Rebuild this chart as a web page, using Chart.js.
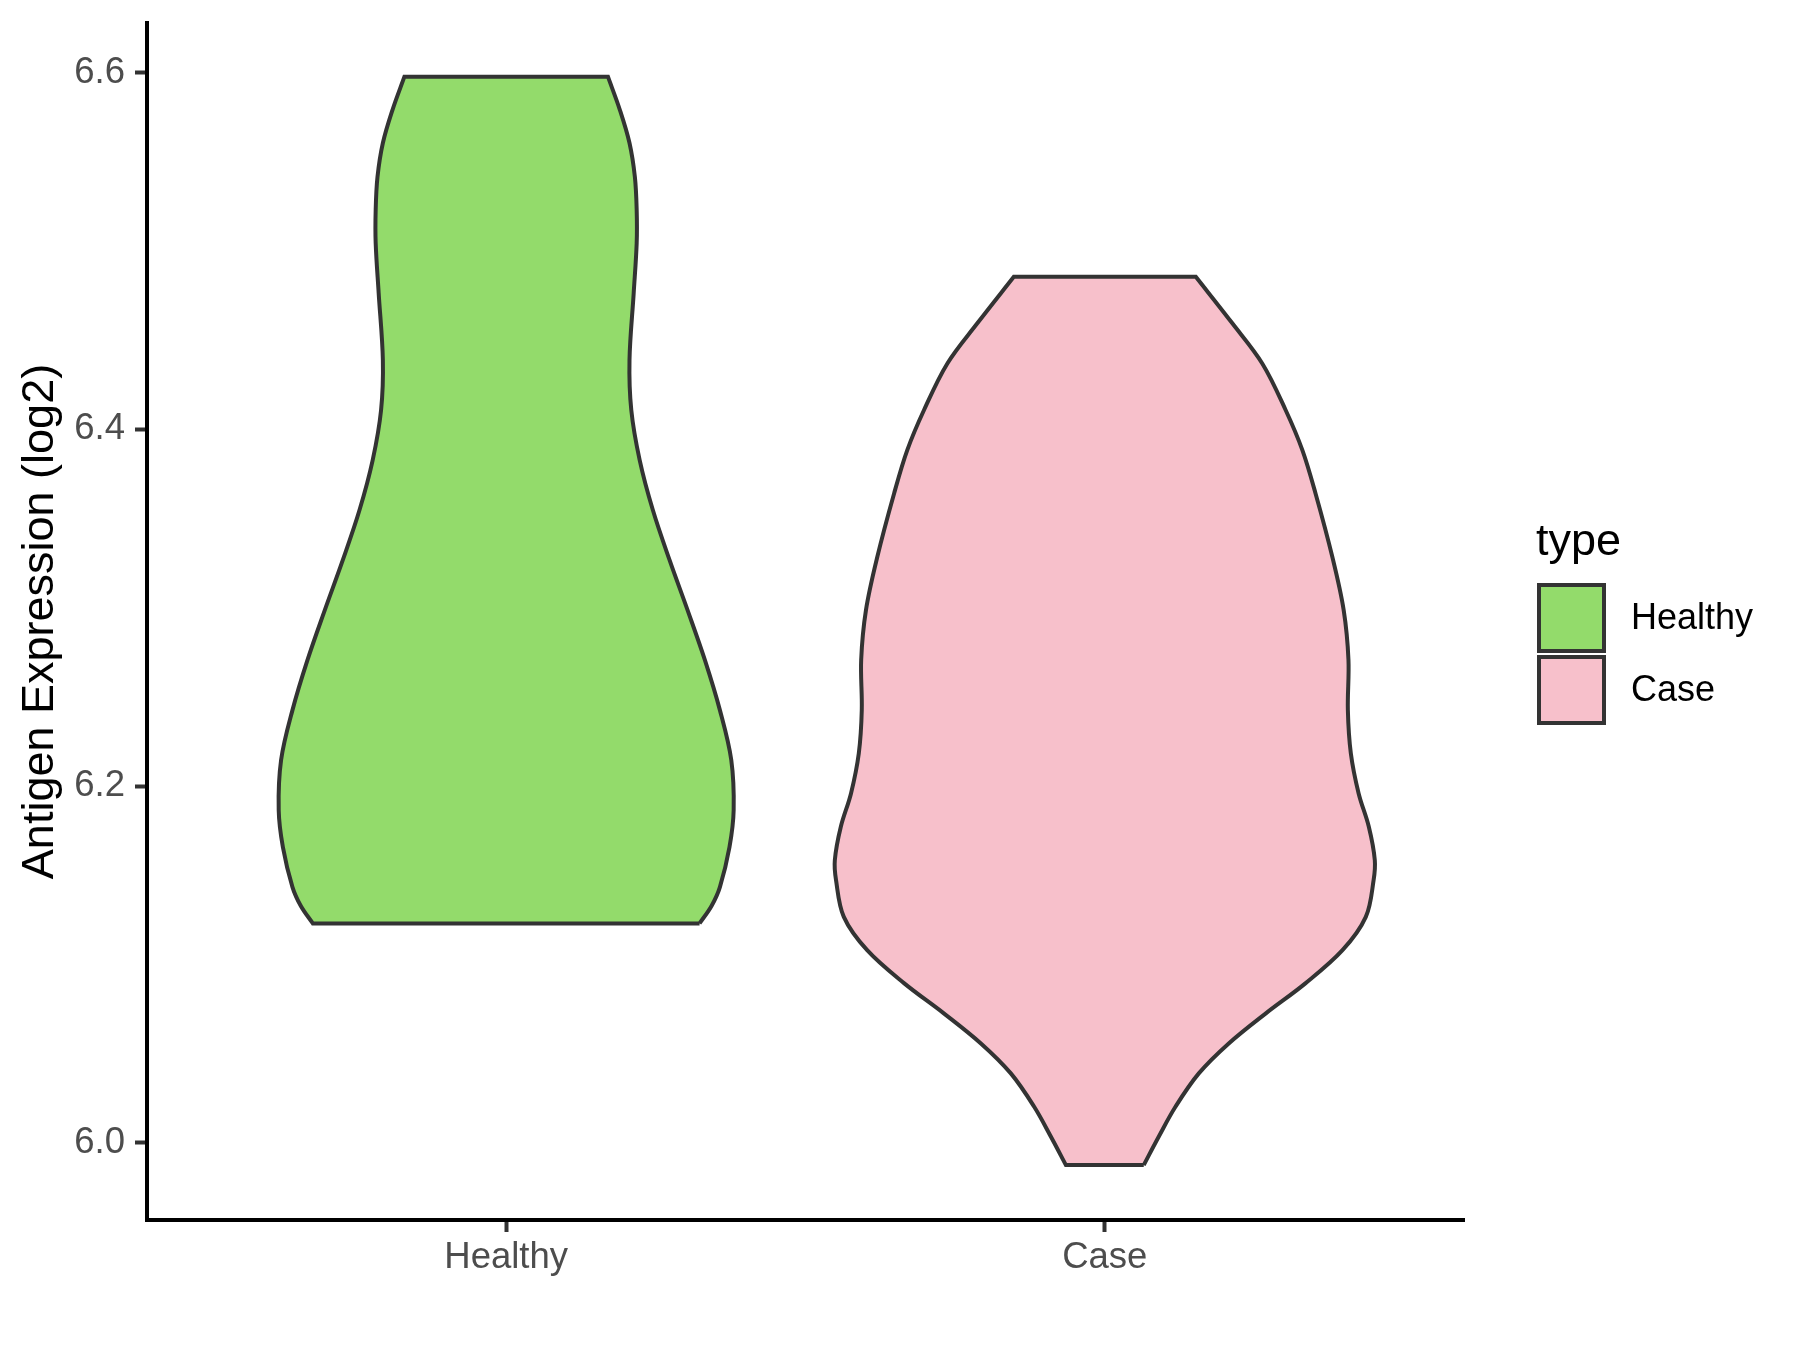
<!DOCTYPE html>
<html>
<head>
<meta charset="utf-8">
<title>Antigen Expression (log2) by type</title>
<script src="https://cdn.jsdelivr.net/npm/chart.js@4.4.1/dist/chart.umd.min.js"></script>
<style>
  html, body { margin: 0; padding: 0; background: #ffffff; }
  #wrap { width: 1800px; height: 1350px; }
</style>
</head>
<body>
<div id="wrap"><canvas id="violinChart" width="1800" height="1350"></canvas></div>
<script>
// Categories and colours
const categories = ['Healthy', 'Case'];
const fillColors = ['#93DB6B', '#F7C0CB'];
const outlineColor = '#333333';
const fontFamily = "'Liberation Sans', Arial, sans-serif";

// Axis ticks and limits
const yTicks = [6.0, 6.2, 6.4, 6.6];
const yLimits = [5.9567, 6.6279];
const xLimits = [0.4, 2.6];

// Violin outlines: expression level (bottom -> top) and half-width in category units
const healthyLevels = [6.1230, 6.1328, 6.1434, 6.1658, 6.1866, 6.2146, 6.2426, 6.2706, 6.2987, 6.3267, 6.3548,
                       6.3828, 6.4108, 6.4389, 6.4765, 6.5045, 6.5230, 6.5415, 6.5606, 6.5791, 6.5978];
const healthyHalfWidth = [0.323, 0.343, 0.357, 0.373, 0.380, 0.376, 0.357, 0.332, 0.303, 0.273, 0.245,
                          0.223, 0.209, 0.206, 0.213, 0.218, 0.218, 0.215, 0.206, 0.190, 0.170];
const caseLevels = [5.9875, 6.0034, 6.0202, 6.0389, 6.0557, 6.0726, 6.0894, 6.1080, 6.1267, 6.1473,
                    6.1585, 6.1772, 6.1959, 6.2183, 6.2427, 6.2707, 6.2987, 6.3286, 6.3641, 6.3884,
                    6.4109, 6.4370, 6.4595, 6.4856];
const caseHalfWidth = [0.065, 0.090, 0.118, 0.157, 0.207, 0.269, 0.335, 0.397, 0.436, 0.449,
                       0.451, 0.441, 0.424, 0.411, 0.406, 0.407, 0.399, 0.380, 0.352, 0.330,
                       0.302, 0.263, 0.213, 0.152];

// Build a closed outline: up the right side, down the left side.
// Corner points are repeated so the smoothed sides meet the flat ends sharply.
function violinOutline(center, levels, halfWidth) {
    const right = levels.map((y, i) => ({ x: center + halfWidth[i], y: y }));
    const left = levels.map((y, i) => ({ x: center - halfWidth[i], y: y })).reverse();
    const topRight = right[right.length - 1];
    const bottomLeft = left[left.length - 1];
    return [...right, { ...topRight }, { ...left[0] }, ...left, { ...bottomLeft }, { ...right[0] }];
}

const violins = [
    violinOutline(1, healthyLevels, healthyHalfWidth),
    violinOutline(2, caseLevels, caseHalfWidth)
];

const datasets = categories.map((name, i) => ({
    label: name,
    data: violins[i],
    showLine: true,
    fill: 'shape',
    backgroundColor: fillColors[i],
    borderColor: outlineColor,
    borderWidth: 4,
    tension: 0.35,
    pointRadius: 0,
    pointHoverRadius: 0
}));

// ggplot-style legend on the right
const typeLegend = {
    id: 'typeLegend',
    afterDraw(chart) {
        const ctx = chart.ctx;
        const left = chart.chartArea.right + 72;
        ctx.save();
        ctx.fillStyle = '#000000';
        ctx.textAlign = 'left';
        ctx.textBaseline = 'alphabetic';
        ctx.font = `45px ${fontFamily}`;
        ctx.fillText('type', left, 555);

        chart.data.datasets.forEach((ds, i) => {
            const boxTop = 585 + i * 72;
            ctx.fillStyle = ds.backgroundColor;
            ctx.fillRect(left + 3, boxTop, 65, 66);
            ctx.lineWidth = 4;
            ctx.strokeStyle = outlineColor;
            ctx.strokeRect(left + 3, boxTop, 65, 66);

            ctx.fillStyle = '#000000';
            ctx.textBaseline = 'middle';
            ctx.font = `36px ${fontFamily}`;
            ctx.fillText(ds.label, left + 95, boxTop + 34);
        });
        ctx.restore();
    }
};

const ctx = document.getElementById('violinChart').getContext('2d');
const chart = new Chart(ctx, {
    type: 'scatter',
    data: { datasets: datasets },
    options: {
        responsive: false,
        animation: false,
        events: [],
        layout: {
            padding: { left: 0, top: 23, right: 336, bottom: 0 }
        },
        plugins: {
            legend: { display: false },
            tooltip: { enabled: false }
        },
        scales: {
            x: {
                type: 'linear',
                min: xLimits[0],
                max: xLimits[1],
                afterBuildTicks: (scale) => {
                    scale.ticks = categories.map((c, i) => ({ value: i + 1 }));
                },
                afterFit: (scale) => {
                    scale.height = 130;
                    scale.paddingLeft = 0;
                    scale.paddingRight = 0;
                },
                ticks: {
                    callback: (value) => categories[value - 1] ?? '',
                    font: { family: fontFamily, size: 36.5 },
                    color: '#4D4D4D',
                    padding: 4,
                    maxRotation: 0
                },
                grid: {
                    drawOnChartArea: false,
                    drawTicks: true,
                    tickLength: 12,
                    tickWidth: 4,
                    tickColor: outlineColor
                },
                border: { display: true, color: '#000000', width: 4 }
            },
            y: {
                type: 'linear',
                min: yLimits[0],
                max: yLimits[1],
                afterBuildTicks: (scale) => {
                    scale.ticks = yTicks.map(v => ({ value: v }));
                },
                afterFit: (scale) => {
                    scale.width = 147;
                    scale.paddingTop = 0;
                    scale.paddingBottom = 0;
                },
                ticks: {
                    callback: (value) => value.toFixed(1),
                    font: { family: fontFamily, size: 36.5 },
                    color: '#4D4D4D',
                    padding: 10
                },
                grid: {
                    drawOnChartArea: false,
                    drawTicks: true,
                    tickLength: 12,
                    tickWidth: 4,
                    tickColor: outlineColor
                },
                border: { display: true, color: '#000000', width: 4 },
                title: {
                    display: true,
                    text: 'Antigen Expression (log2)',
                    font: { family: fontFamily, size: 45 },
                    color: '#000000',
                    padding: { top: 14, bottom: 0 }
                }
            }
        }
    },
    plugins: [typeLegend]
});
</script>
</body>
</html>
